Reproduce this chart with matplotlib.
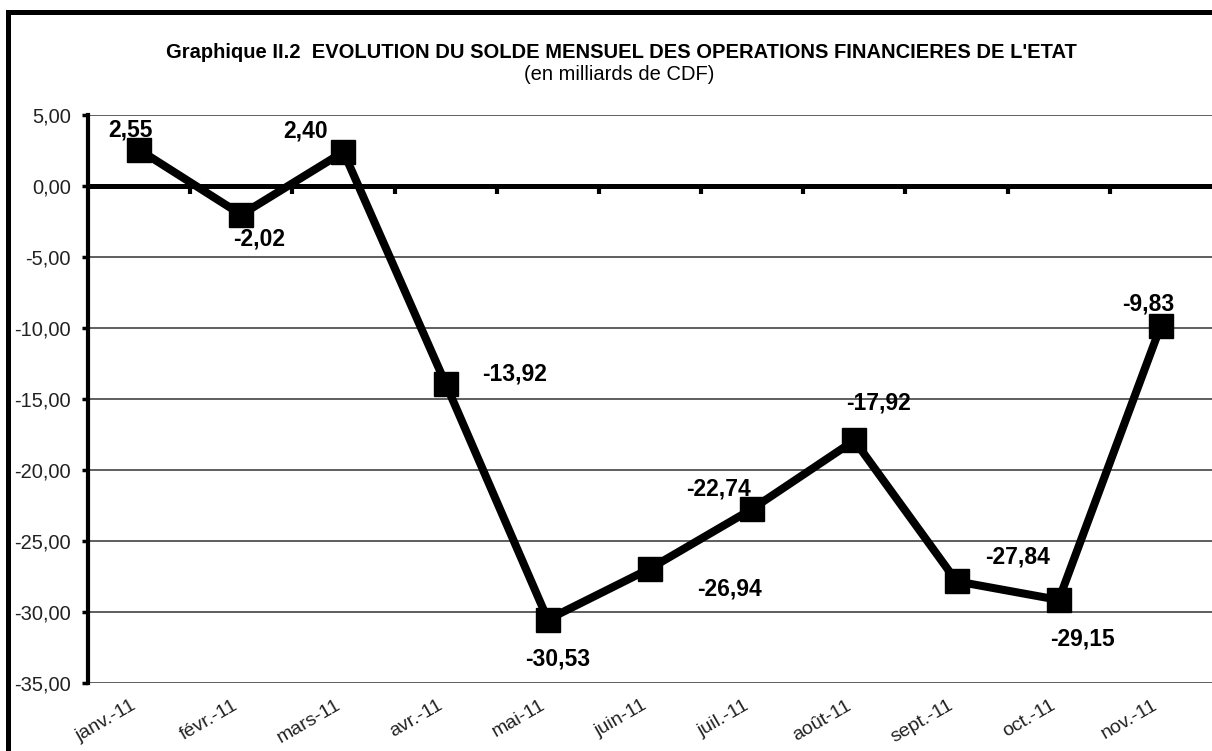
import numpy as np
import matplotlib.pyplot as plt
from matplotlib.patches import Rectangle

# -------------------------------
# Data
# -------------------------------
mois = ["janv.-11", "févr.-11", "mars-11", "avr.-11", "mai-11", "juin-11",
        "juil.-11", "août-11", "sept.-11", "oct.-11", "nov.-11"]
solde = [2.55, -2.02, 2.40, -13.92, -30.53, -26.94, -22.74, -17.92, -27.84, -29.15, -9.83]
y_ticks = [5, 0, -5, -10, -15, -20, -25, -30, -35]

# label offsets (pixels) relative to each point, as placed in the original
label_dx = [-9, 18, -38, 69, 10, 79, -34, 24, 61, 24, -13]
label_dy = [20, -24, 21, 10, -39, -20, 20, 37, 24, -39, 22]

plt.rcParams['font.family'] = ['Liberation Sans', 'DejaVu Sans']

W, H = 1212, 751
fig = plt.figure(figsize=(W / 100, H / 100), dpi=100)
fig.patch.set_facecolor("white")

ax = fig.add_axes([88 / W, 1 - 683 / H, 1 - 88 / W, (683 - 115) / H])

x = np.arange(len(mois))
ax.plot(x, solde, color="black", lw=5.8, marker="s", markersize=17,
        markeredgewidth=1, markerfacecolor="black", markeredgecolor="black",
        zorder=5, clip_on=False)

ax.set_xlim(-0.5, len(mois) - 0.5)
ax.set_ylim(-35, 5)

# gridlines
for v in y_ticks:
    if v != 0:
        ax.axhline(v, color="#333333", lw=1.1, zorder=1)

# zero axis with tick marks between categories
ax.axhline(0, color="black", lw=3.6, zorder=3)
bounds = np.arange(0.5, len(mois) - 0.5, 1)
ax.plot(bounds, np.zeros(len(bounds)), ls="none", marker=3, markersize=5.5,
        markeredgewidth=3, color="black", zorder=3)

# y axis
ax.set_yticks(y_ticks)
ax.set_yticklabels([f"{v:.2f}".replace(".", ",") for v in y_ticks],
                   fontsize=14.5, color="#222222")
ax.tick_params(axis="y", direction="out", length=4.5, width=2.5, pad=8)

# x labels (no tick marks at the bottom)
ax.set_xticks(x)
ax.set_xticklabels(mois, rotation=30, ha="right", fontsize=14, color="#222222")
ax.tick_params(axis="x", length=0, pad=10)

for s in ["top", "right", "bottom"]:
    ax.spines[s].set_visible(False)
ax.spines["left"].set_linewidth(3)

# data labels
for i, v in enumerate(solde):
    ax.annotate(f"{v:.2f}".replace(".", ","), (i, v),
                xytext=(label_dx[i], label_dy[i]), textcoords="offset pixels",
                ha="center", va="center", fontsize=16.5, fontweight="bold",
                color="black", zorder=6)

# titles
fig.text(621 / W, 1 - 52 / H,
         "Graphique II.2  EVOLUTION DU SOLDE MENSUEL DES OPERATIONS FINANCIERES DE L'ETAT",
         ha="center", va="center", fontsize=14.5, fontweight="bold")
fig.text(619 / W, 1 - 74 / H, "(en milliards de CDF)",
         ha="center", va="center", fontsize=14.5)

# outer chart border (cropped at right and bottom in the original)
fig.add_artist(Rectangle((7.5 / W, -0.2), 1.2, 1.2 - 12 / H,
                         transform=fig.transFigure, fill=False,
                         edgecolor="black", lw=3.6))

fig.savefig("out.png", dpi=100)
